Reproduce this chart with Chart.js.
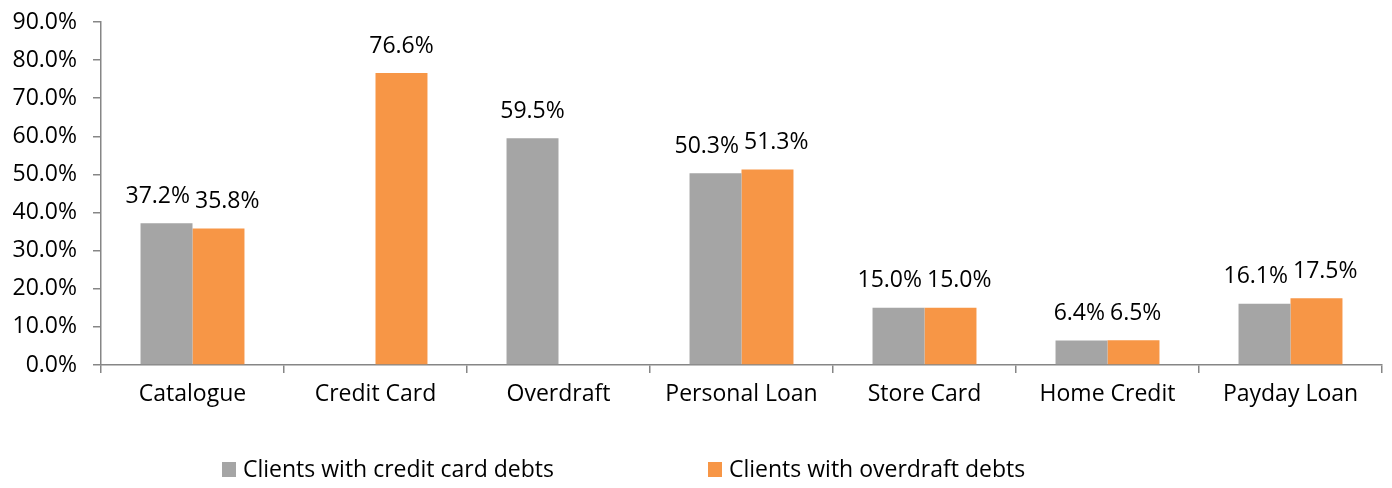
<!DOCTYPE html>
<html>
<head>
<meta charset="utf-8">
<script src="https://cdn.jsdelivr.net/npm/chart.js@4/dist/chart.umd.min.js"></script>
<style>
html,body{margin:0;padding:0;background:#fff;}
#wrap{width:1392px;height:488px;position:relative;}
</style>
</head>
<body>
<div id="wrap"><canvas id="c" width="1392" height="488"></canvas></div>
<script>
const categories = ["Catalogue","Credit Card","Overdraft","Personal Loan","Store Card","Home Credit","Payday Loan"];
const creditCardDebts = [37.2, null, 59.5, 50.3, 15.0, 6.4, 16.1];
const overdraftDebts = [35.8, 76.6, null, 51.3, 15.0, 6.5, 17.5];
const seriesNames = ["Clients with credit card debts","Clients with overdraft debts"];
const yMax = 90;
const yStep = 10;

const FONT = "'Open Sans', sans-serif";
const FS = 23;
const AXIS = '#868686';

const labelPlugin = {
  id: 'barLabels',
  afterDatasetsDraw(chart) {
    const ctx = chart.ctx;
    ctx.save();
    ctx.font = FS + 'px ' + FONT;
    ctx.fillStyle = '#000';
    ctx.textAlign = 'center';
    ctx.textBaseline = 'middle';
    const n = chart.data.labels.length;
    for (let i = 0; i < n; i++) {
      const items = [];
      chart.data.datasets.forEach((ds, di) => {
        const v = ds.data[i];
        if (v === null || v === undefined) return;
        const el = chart.getDatasetMeta(di).data[i];
        const txt = v.toFixed(1) + '%';
        items.push({x: el.x, y: el.y - 27, txt, w: ctx.measureText(txt).width});
      });
      if (items.length === 2) {
        const need = (items[0].w + items[1].w) / 2 + 5;
        const gap = items[1].x - items[0].x;
        if (gap < need) {
          const s = (need - gap) / 2;
          items[0].x -= s; items[1].x += s;
        }
      }
      items.forEach(it => ctx.fillText(it.txt, it.x, it.y));
    }
    ctx.restore();
  }
};

const legendPlugin = {
  id: 'customLegend',
  afterDraw(chart) {
    const ctx = chart.ctx;
    ctx.save();
    ctx.font = FS + 'px ' + FONT;
    ctx.textBaseline = 'middle';
    ctx.textAlign = 'left';
    const starts = [222, 708];
    const y = 470;
    chart.data.datasets.forEach((ds, di) => {
      const x = starts[di];
      ctx.fillStyle = ds.backgroundColor;
      ctx.fillRect(x, y - 8, 14, 15);
      ctx.fillStyle = '#000';
      ctx.fillText(ds.label, x + 21, y);
    });
    ctx.restore();
  }
};

new Chart(document.getElementById('c'), {
  type: 'bar',
  data: {
    labels: categories,
    datasets: [
      {label: seriesNames[0], data: creditCardDebts, backgroundColor: '#A5A5A5', categoryPercentage: 0.568, barPercentage: 1.0},
      {label: seriesNames[1], data: overdraftDebts, backgroundColor: '#F79646', categoryPercentage: 0.568, barPercentage: 1.0}
    ]
  },
  options: {
    responsive: false,
    animation: false,
    layout: {padding: {top: 22, right: 10, left: 0, bottom: 0}},
    plugins: {legend: {display: false}, tooltip: {enabled: false}},
    scales: {
      x: {
        offset: true,
        grid: {display: true, drawOnChartArea: false, offset: true, tickLength: 8, color: AXIS, lineWidth: 1.5},
        border: {display: true, color: AXIS, width: 1.5},
        ticks: {font: {family: FONT, size: FS}, color: '#000', padding: 8, maxRotation: 0, autoSkip: false},
        afterFit(s) { s.height = 123; s.paddingLeft = 0; s.paddingRight = 0; }
      },
      y: {
        min: 0, max: yMax,
        grid: {display: true, drawOnChartArea: false, tickLength: 8, color: AXIS, lineWidth: 1.5},
        border: {display: true, color: AXIS, width: 1.5},
        ticks: {stepSize: yStep, font: {family: FONT, size: FS}, color: '#000', padding: 16,
          callback: v => v.toFixed(1) + '%'},
        afterFit(s) { s.width = 101; s.paddingTop = 0; s.paddingBottom = 0; }
      }
    }
  },
  plugins: [labelPlugin, legendPlugin]
});
</script>
</body>
</html>
